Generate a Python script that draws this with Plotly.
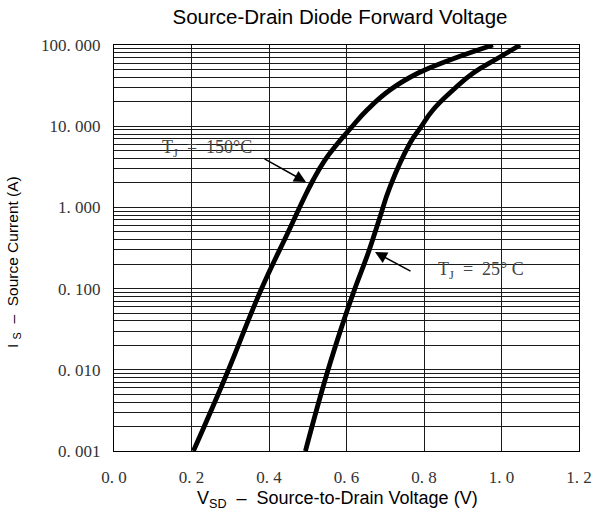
import plotly.graph_objects as go

# Source-drain diode forward characteristic (VSD in volts, IS in amps)
vsd_150 = [0.205, 0.292, 0.377, 0.452, 0.488, 0.514, 0.543, 0.578, 0.612, 0.653, 0.712, 0.785, 0.867, 0.978]
is_150 = [0.001, 0.00913, 0.0908, 0.527, 1.233, 2.175, 3.75, 6.2, 9.6, 15.83, 27.9, 45.2, 65.4, 100]

vsd_25 = [0.494, 0.550, 0.596, 0.625, 0.656, 0.684, 0.712, 0.764, 0.792, 0.823, 0.875, 0.927, 0.996, 1.048]
is_25 = [0.001, 0.00913, 0.0447, 0.1107, 0.2745, 0.6995, 1.783, 6.21, 9.77, 15.83, 27.9, 45.2, 71.2, 100]

x_ticks = [0.0, 0.2, 0.4, 0.6, 0.8, 1.0, 1.2]
x_ticktext = ["0. 0", "0. 2", "0. 4", "0. 6", "0. 8", "1. 0", "1. 2"]
y_ticks = [0.001, 0.01, 0.1, 1, 10, 100]
y_ticktext = ["0. 001", "0. 010", "0. 100", "1. 000", "10. 000", "100. 000"]

W, H = 606, 527
ML, MR, MT, MB = 112, 18, 45, 76
PW, PH = W - ML - MR, H - MT - MB


def px(x):
    return (x - ML) / PW


def py(y):
    return (H - MB - y) / PH


SERIF = "Liberation Serif, DejaVu Serif, serif"
SANS = "Liberation Sans, Arial, sans-serif"
GRID = "#1a1a1a"

fig = go.Figure()
for xs, ys in ((vsd_150, is_150), (vsd_25, is_25)):
    fig.add_trace(go.Scatter(
        x=xs, y=ys, mode="lines",
        line=dict(color="black", width=4.8, shape="spline", smoothing=1.3),
        showlegend=False, hoverinfo="skip",
    ))
# carrier for the tick-label axis
fig.add_trace(go.Scatter(x=[None], y=[None], xaxis="x2", showlegend=False, hoverinfo="skip"))

fig.update_layout(
    width=W, height=H,
    margin=dict(l=ML, r=MR, t=MT, b=MB, autoexpand=False),
    paper_bgcolor="white", plot_bgcolor="white",
    xaxis=dict(
        domain=[px(114), px(579)], range=[0, 1.2], automargin=False,
        tickvals=x_ticks, showticklabels=False, ticks="",
        showgrid=True, gridcolor=GRID, gridwidth=1, zeroline=False,
        showline=True, linecolor="black", linewidth=1, mirror=True,
    ),
    xaxis2=dict(
        domain=[0, 1], range=[0, 1.2], overlaying="x", anchor="y", side="bottom",
        automargin=False,
        tickvals=x_ticks, ticktext=x_ticktext, ticks="",
        showgrid=False, zeroline=False, showline=False,
        ticklabelstandoff=14,
        tickfont=dict(family=SERIF, size=17, color="#333"),
    ),
    yaxis=dict(
        type="log", range=[-3, 2], automargin=False,
        tickvals=y_ticks, ticktext=y_ticktext, ticks="",
        ticklabelstandoff=9,
        tickfont=dict(family=SERIF, size=17, color="#333"),
        showgrid=True, gridcolor=GRID, gridwidth=1, zeroline=False,
        showline=True, linecolor="black", linewidth=1, mirror=True,
        minor=dict(dtick="D1", showgrid=True, gridcolor=GRID, gridwidth=1, ticks=""),
    ),
    title=dict(
        text="Source-Drain Diode Forward Voltage",
        x=340 / W, xanchor="center", y=1 - 17 / H, yanchor="middle",
        font=dict(family=SANS, size=20.5, color="black"),
    ),
)

# white label boxes over the grid
for x0, y0, x1, y1 in ((145, 133, 263, 164), (418, 251, 536, 288)):
    fig.add_shape(type="rect", xref="paper", yref="paper",
                  x0=px(x0), x1=px(x1), y0=py(y1), y1=py(y0),
                  fillcolor="white", line=dict(width=0), layer="between")

ann = [
    dict(text="T<sub>J</sub>  =  150°C", x=px(207), y=py(148)),
    dict(text="T<sub>J</sub>  =  25° C", x=px(481), y=py(270)),
]
for a in ann:
    fig.add_annotation(xref="paper", yref="paper", showarrow=False,
                       xanchor="center", yanchor="middle",
                       font=dict(family=SERIF, size=18, color="#444"), **a)

# leader arrows
for (tx, ty), (hx, hy) in (((263, 158), (306, 182)), ((412, 272), (375, 252))):
    fig.add_annotation(xref="paper", yref="paper", axref="pixel", ayref="pixel",
                       x=px(hx), y=py(hy), ax=tx - hx, ay=ty - hy, text="",
                       showarrow=True, arrowhead=2, arrowsize=1.6, arrowwidth=1.5,
                       arrowcolor="black")

# axis titles
fig.add_annotation(xref="paper", yref="paper", x=px(337), y=py(500), showarrow=False,
                   text="V<sub>SD</sub>  –  Source-to-Drain Voltage (V)",
                   font=dict(family=SANS, size=18, color="black"),
                   xanchor="center", yanchor="middle")
fig.add_annotation(xref="paper", yref="paper", x=px(13), y=py(262), showarrow=False,
                   text="I <sub>S</sub>  –  Source Current (A)", textangle=-90,
                   font=dict(family=SANS, size=15.5, color="black"),
                   xanchor="center", yanchor="middle")

fig.write_html("out.html")
